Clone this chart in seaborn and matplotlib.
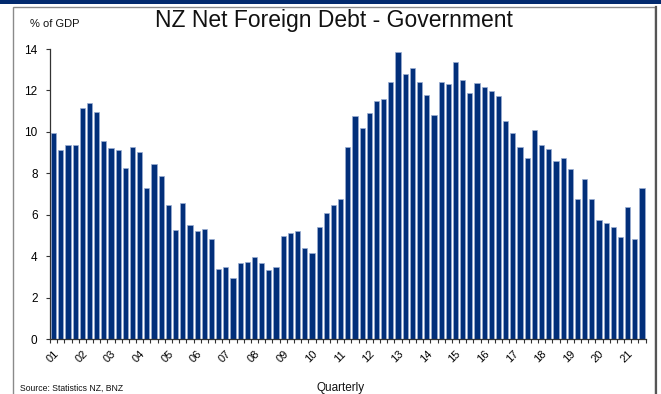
import numpy as np
import pandas as pd
import matplotlib
matplotlib.use("Agg")
import matplotlib.pyplot as plt
from matplotlib.patches import Rectangle
import seaborn as sns

# quarterly net foreign debt, government, % of GDP (2001 Q1 - 2021 Q3)
debt = [
    9.95, 9.12, 9.38, 9.35, 11.16, 11.38, 10.96, 9.54,      # 01-02
    9.22, 9.12, 8.27, 9.25, 9.03, 7.30, 8.44, 7.85,         # 03-04
    6.46, 5.26, 6.56, 5.49, 5.23, 5.30, 4.84, 3.37,         # 05-06
    3.47, 2.95, 3.65, 3.73, 3.97, 3.65, 3.34, 3.49,         # 07-08
    4.97, 5.12, 5.23, 4.39, 4.15, 5.43, 6.07, 6.46,         # 09-10
    6.78, 9.28, 10.77, 10.21, 10.93, 11.51, 11.61, 12.42,   # 11-12
    13.84, 12.80, 13.06, 12.43, 11.77, 10.80, 12.39, 12.32, # 13-14
    13.35, 12.48, 11.90, 12.35, 12.17, 11.98, 11.71, 10.54, # 15-16
    9.93, 9.28, 8.75, 10.11, 9.35, 9.17, 8.57, 8.72,        # 17-18
    8.19, 6.77, 7.73, 6.77, 5.75, 5.60, 5.39, 4.94,         # 19-20
    6.36, 4.81, 7.30,                                       # 21
]
years = [f"{y:02d}" for y in range(1, 22)]

df = pd.DataFrame({"q": range(len(debt)), "debt": debt})

W, H = 661, 394
fig = plt.figure(figsize=(W / 100, H / 100), dpi=100)
plt.rcParams["font.family"] = ["Liberation Sans", "DejaVu Sans"]

# frame and top band
fig.patches.append(Rectangle((0, 1 - 4 / H), 1, 4 / H, transform=fig.transFigure,
                             facecolor="#022a6e", edgecolor="none", zorder=0))
fig.patches.append(Rectangle((13 / W, -0.05), 642 / W, 1.05 - 7 / H, transform=fig.transFigure,
                             facecolor="none", edgecolor="#8a8a8a", linewidth=1.0, zorder=0))
fig.lines.append(plt.Line2D([656 / W, 656 / W], [0, 1 - 7 / H], transform=fig.transFigure,
                            color="#555555", linewidth=1.6))

ax = fig.add_axes([50 / W, 1 - 339 / H, 596 / W, 290 / H])
sns.barplot(data=df, x="q", y="debt", color="#022f7a", saturation=1, width=0.72,
            edgecolor="#9aaed2", linewidth=0.5, ax=ax)

ax.set_ylim(0, 14)
ax.set_xlim(-0.5, len(debt) - 0.45)
ax.set_yticks(range(0, 15, 2))
ax.set_xticks(range(0, len(debt), 4))
ax.set_xticklabels(years, rotation=45, ha="right", va="top", rotation_mode="anchor")
ax.set_xticks(np.arange(-0.5, len(debt) + 0.5, 1), minor=True)
ax.tick_params(axis="x", which="major", length=0, labelsize=8, pad=7)
ax.tick_params(axis="x", which="minor", length=3, width=0.8, color="#333333", direction="out")
ax.tick_params(axis="y", length=3, width=0.8, color="#333333", labelsize=8.5, pad=6)
ax.set_xlabel("")
ax.set_ylabel("")
for s in ["top", "right"]:
    ax.spines[s].set_visible(False)
for s in ["left", "bottom"]:
    ax.spines[s].set_color("#333333")
    ax.spines[s].set_linewidth(0.9)

fig.text(334 / W, 1 - 21 / H, "NZ Net Foreign Debt - Government", ha="center", va="center",
         fontsize=16.5, color="#111111")
fig.text(30 / W, 1 - 24 / H, "% of GDP", ha="left", va="center", fontsize=8, color="#111111")
fig.text(20 / W, 1 - 388 / H, "Source: Statistics NZ, BNZ", ha="left", va="center",
         fontsize=6.2, color="#111111")
fig.text(341 / W, 1 - 388 / H, "Quarterly", ha="center", va="center", fontsize=8.5, color="#111111")

fig.savefig("out.png", dpi=100)
